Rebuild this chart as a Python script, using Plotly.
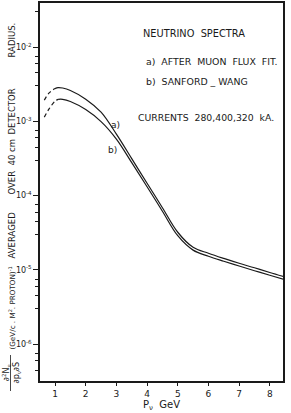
import numpy as np
import plotly.graph_objects as go

# ---- data ----
p_nu = [0.65, 0.8, 1.0, 1.1, 1.25, 1.5, 2.0, 2.5, 3.0, 3.5, 4.0, 4.5,
        5.0, 5.5, 6.0, 6.5, 7.0, 7.5, 8.0, 8.45]
flux_a = [1.93e-3, 2.40e-3, 2.76e-3, 2.85e-3, 2.81e-3, 2.60e-3, 1.99e-3, 1.33e-3,
          6.73e-4, 3.15e-4, 1.47e-4, 6.89e-5, 3.22e-5, 2.02e-5, 1.68e-5, 1.43e-5,
          1.23e-5, 1.07e-5, 9.24e-6, 8.16e-6]
flux_b = [1.14e-3, 1.46e-3, 1.87e-3, 1.98e-3, 1.98e-3, 1.85e-3, 1.44e-3, 9.92e-4,
          5.77e-4, 2.78e-4, 1.32e-4, 6.18e-5, 2.89e-5, 1.85e-5, 1.53e-5, 1.31e-5,
          1.13e-5, 9.77e-6, 8.50e-6, 7.51e-6]
dash_end_a = 1.0   # extrapolated (dashed) part ends here
dash_end_b = 1.1
x_ticks = [1, 2, 3, 4, 5, 6, 7, 8]
y_ticks = [1e-6, 1e-5, 1e-4, 1e-3, 1e-2]
y_ticktext = ["10<sup>-6</sup>", "10<sup>-5</sup>", "10<sup>-4</sup>",
              "10<sup>-3</sup>", "10<sup>-2</sup>"]
y_minor = [m * 10.0 ** e for e in range(-7, -1) for m in (3, 4.5, 6, 7.5)]

INK = "#1a1a1a"
FONT = "DejaVu Sans"

x = np.array(p_nu)
a = np.array(flux_a)
b = np.array(flux_b)

fig = go.Figure()
for yv, de in ((a, dash_end_a), (b, dash_end_b)):
    m1 = x <= de
    m2 = x >= de
    fig.add_trace(go.Scatter(x=x[m1], y=yv[m1], mode="lines",
                             line=dict(color=INK, width=1.2, dash="4px,3px", shape="spline"),
                             showlegend=False, hoverinfo="skip"))
    fig.add_trace(go.Scatter(x=x[m2], y=yv[m2], mode="lines",
                             line=dict(color=INK, width=1.2, shape="spline"),
                             showlegend=False))

fig.update_layout(
    width=291, height=413,
    margin=dict(l=40, r=8, t=3, b=32),
    paper_bgcolor="white", plot_bgcolor="white",
    font=dict(family=FONT, size=9, color=INK),
    showlegend=False,
)
fig.update_xaxes(
    range=[0.51, 8.43], tickvals=x_ticks, ticks="outside", ticklen=3,
    tickcolor=INK, showline=True, linecolor=INK, linewidth=1.5, mirror=True,
    showgrid=False, zeroline=False, tickfont=dict(size=9), automargin=False,
    title=dict(text="P<sub>ν</sub>  GeV", font=dict(size=10), standoff=2),
)
fig.update_yaxes(
    type="log", range=[-6.494, -1.407], tickvals=y_ticks, ticktext=y_ticktext,
    ticks="outside", ticklen=5, tickcolor=INK, showline=True, linecolor=INK,
    linewidth=1.5, mirror=True, showgrid=False, zeroline=False, automargin=False,
    tickfont=dict(size=8),
    minor=dict(tickvals=y_minor, ticks="outside", ticklen=3, tickcolor=INK, showgrid=False),
)

def px2paper(px, py):
    return (px - 40) / 243.0, (381 - py) / 378.0

def note(text, px, py, anchor="left", size=9.5, angle=0):
    xp, yp = px2paper(px, py)
    fig.add_annotation(text=text, x=xp, y=yp, xref="paper", yref="paper",
                       xanchor=anchor, yanchor="middle", showarrow=False,
                       textangle=angle, font=dict(family=FONT, size=size, color=INK))

note("NEUTRINO  SPECTRA", 141, 33, size=9.8)
note("a)  AFTER  MUON  FLUX  FIT.", 144, 62, size=9.4)
note("b)  SANFORD _ WANG", 144, 82, size=9.4)
note("CURRENTS  280,400,320  kA.", 136, 117, size=9.3)
note("a)", 115, 125, anchor="center", size=9)
note("b)", 112, 150, anchor="center", size=9)

# rotated y-axis title, word by word
for word, py, fs in (("RADIUS.", 40, 8.5), ("DETECTOR", 112, 8.5), ("40 cm", 153, 8.5),
                     ("OVER", 183, 8.5), ("AVERAGED", 235, 8.5),
                     ("(GeV/c . M<sup>2</sup>. PROTON)<sup>-1</sup>", 308, 7.2)):
    note(word, 11.5, py, anchor="center", size=fs, angle=-90)
note("∂<sup>2</sup>N<sub>ν</sub><br>∂p<sub>ν</sub>∂S", 10.5, 373, anchor="center", size=8, angle=-90)
x0, _ = px2paper(10.5, 0)
_, y0 = px2paper(0, 355)
_, y1 = px2paper(0, 391)
fig.add_shape(type="line", xref="paper", yref="paper", x0=x0, x1=x0, y0=y0, y1=y1,
              line=dict(color=INK, width=0.8))

fig.write_html("out.html", config={"displayModeBar": False},
               post_script="document.body.style.margin='0px';")
